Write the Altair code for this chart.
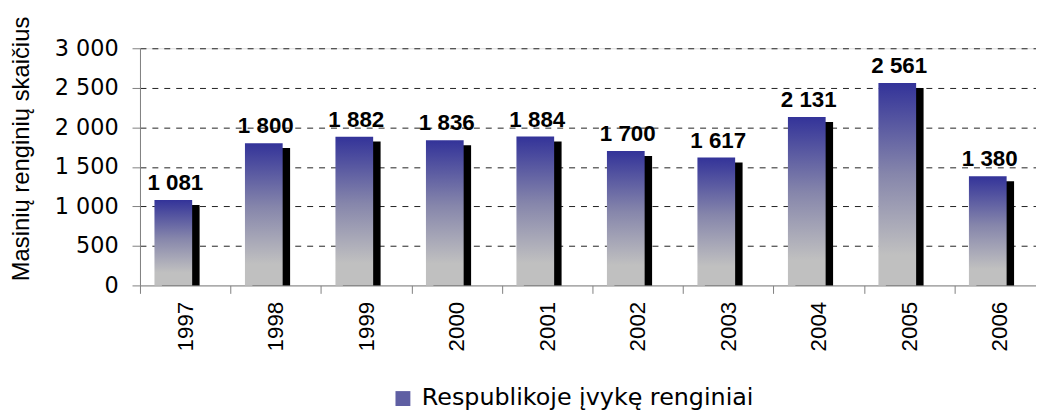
import altair as alt
import pandas as pd

years = ["1997", "1998", "1999", "2000", "2001", "2002", "2003", "2004", "2005", "2006"]
values = [1081, 1800, 1882, 1836, 1884, 1700, 1617, 2131, 2561, 1380]
series_name = "Respublikoje įvykę renginiai"
y_ticks = [0, 500, 1000, 1500, 2000, 2500, 3000]
y_title = "Masinių renginių skaičius"

df = pd.DataFrame({"year": years, "value": values, "series": [series_name] * len(years)})

x_enc = alt.X(
    "year:N", sort=years,
    scale=alt.Scale(range=[0, 912], paddingInner=0, paddingOuter=0),
    axis=alt.Axis(
        title=None, labelAngle=-90, labelFont="Liberation Sans", labelFontSize=22.5,
        labelColor="#000", tickBand="extent", tickSize=8, labelPadding=8,
        domainColor="#808080", tickColor="#808080", grid=False,
    ),
)
y_enc = alt.Y(
    "value:Q",
    scale=alt.Scale(domain=[0, 3000], nice=False),
    axis=alt.Axis(
        values=y_ticks, labelExpr="replace(format(datum.value, ','), ',', ' ')",
        title=y_title, titleFont="Liberation Sans", titleFontSize=24, titleFontWeight="normal",
        titleColor="#000", titleAngle=-90, titleX=-119, titleY=101, titleAlign="center",
        titleBaseline="middle",
        labelFont="DejaVu Sans", labelFontSize=22.5, labelColor="#000", labelPadding=14,
        tickSize=8, tickColor="#808080", domainColor="#808080",
        grid=True, gridColor="#222", gridDash=[6, 6], gridWidth=1,
        gridOpacity={"condition": {"test": "datum.value === 0", "value": 0}, "value": 1},
    ),
)

base = alt.Chart(df)

shadow = base.mark_bar(size=38, xOffset=-4.5, yOffset=5, color="black", clip=True).encode(
    x=x_enc, y=y_enc
)

grad = alt.Gradient(
    gradient="linear", x1=0, x2=0, y1=0, y2=1,
    stops=[
        alt.GradientStop(color="#333399", offset=0),
        alt.GradientStop(color="#8686ab", offset=0.45),
        alt.GradientStop(color="#c0c0c0", offset=0.85),
        alt.GradientStop(color="#c0c0c0", offset=1),
    ],
)
bars = base.mark_bar(size=38, xOffset=-12, color=grad).encode(x=x_enc, y=y_enc)

labels = base.transform_calculate(
    lbl="replace(format(datum.value, ','), ',', ' ')"
).mark_text(
    font="Liberation Sans", fontSize=22.5, fontWeight="bold", color="#000",
    baseline="bottom", dy=-5, xOffset=-10,
).encode(x=x_enc, y=y_enc, text="lbl:N")

legend_layer = base.mark_square(opacity=0).encode(
    x=x_enc, y=y_enc,
    color=alt.Color(
        "series:N", scale=alt.Scale(range=["#5f5fa3"]),
        legend=alt.Legend(
            title=None, orient="none", legendX=253, legendY=341,
            symbolType="square", symbolSize=225, symbolOpacity=1, symbolStrokeWidth=0,
            labelFont="DejaVu Sans", labelFontSize=24, labelColor="#000", labelOffset=7,
            labelLimit=0,
        ),
    ),
)

chart = alt.layer(shadow, bars, labels, legend_layer).properties(
    width=903, height=239,
    padding={"left": 133, "top": 39, "right": 0, "bottom": 128},
    autosize=alt.AutoSizeParams(type="none"),
).configure_view(stroke=None).configure(background="white")

chart.save("out.html", embed_options={"renderer": "svg", "actions": False})
